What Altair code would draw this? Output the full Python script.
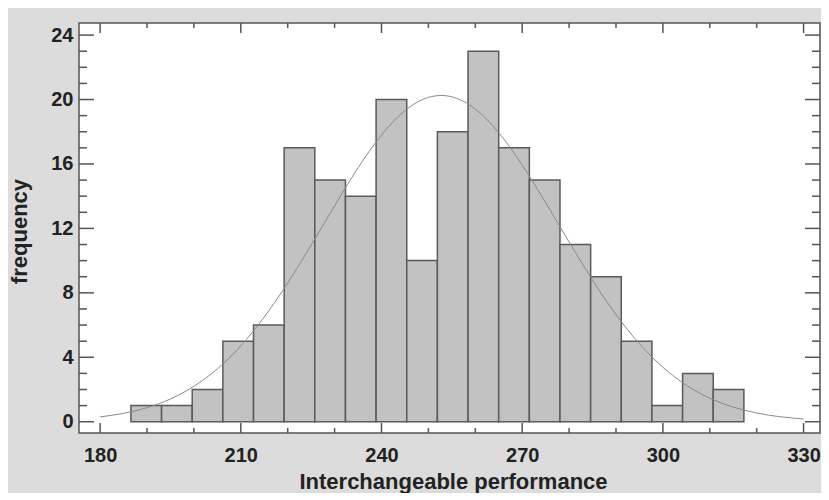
import altair as alt
import pandas as pd

# ---- data ----
counts = [1, 1, 2, 5, 6, 17, 15, 14, 20, 10, 18, 23, 17, 15, 11, 9, 5, 1, 3, 2]
bin_start = 186.57
bin_width = 6.535

curve_x = [180, 185, 190, 195, 200, 205, 210, 215, 220, 225, 230, 235, 240, 245, 250,
           255, 260, 265, 270, 275, 280, 285, 290, 295, 300, 305, 310, 315, 320, 325, 330]
curve_y = [0.30, 0.52, 0.87, 1.41, 2.20, 3.28, 4.71, 6.50, 8.61, 10.96, 13.41, 15.76, 17.80,
           19.31, 20.13, 20.17, 19.41, 17.94, 15.94, 13.60, 11.16, 8.79, 6.65, 4.84, 3.38,
           2.27, 1.46, 0.91, 0.54, 0.31, 0.17]

x_major = [180, 210, 240, 270, 300, 330]
x_minor = [190, 200, 220, 230, 250, 260, 280, 290, 310, 320]
y_major = [0, 4, 8, 12, 16, 20, 24]
y_minor = [1, 2, 3, 5, 6, 7, 9, 10, 11, 13, 14, 15, 17, 18, 19, 21, 22, 23]

x_domain = [175.5, 333.5]
y_domain = [-0.7, 24.75]

W, H = 741, 410
FONT = "Liberation Sans"
LFS = 20
TFS = 22
FRAME = "#555555"
TXT = "#222222"

bars = pd.DataFrame({
    "start": [bin_start + i * bin_width for i in range(len(counts))],
    "end": [bin_start + (i + 1) * bin_width for i in range(len(counts))],
    "count": counts,
})
curve = pd.DataFrame({"x": curve_x, "y": curve_y})

xs = alt.Scale(domain=x_domain, nice=False, zero=False)
ys = alt.Scale(domain=y_domain, nice=False, zero=False)

x_axis = alt.Axis(values=x_major, title="Interchangeable performance", grid=False,
                  ticks=False, tickSize=0, domain=False, labelPadding=12, labelFont=FONT,
                  labelFontSize=LFS, labelFontWeight="bold", labelColor=TXT,
                  titleFont=FONT, titleFontSize=TFS, titleFontWeight="bold",
                  titleColor=TXT, titleX=374, titleY=55, titleBaseline="alphabetic",
                  format="d", labelFlush=False)
y_axis = alt.Axis(values=y_major, title="frequency", grid=False, ticks=False, tickSize=0,
                  domain=False, labelPadding=6, labelFont=FONT, labelFontSize=LFS,
                  labelFontWeight="bold", labelColor=TXT, titleFont=FONT,
                  titleFontSize=TFS, titleFontWeight="bold", titleColor=TXT,
                  titleX=-60, titleY=H / 2 + 3, titleAngle=-90, titleAlign="center",
                  titleBaseline="middle", format="d", labelFlush=False)

bar_layer = alt.Chart(bars).mark_rect(fill="#c2c2c2", stroke="#5a5a5a", strokeWidth=1.5).encode(
    x=alt.X("start:Q", scale=xs, axis=x_axis),
    x2="end:Q",
    y=alt.Y("count:Q", scale=ys, axis=y_axis),
    y2=alt.datum(0),
)

curve_layer = alt.Chart(curve).mark_line(color="#8a8a8a", strokeWidth=1, interpolate="natural").encode(
    x=alt.X("x:Q", scale=xs),
    y=alt.Y("y:Q", scale=ys),
)

xmaj = pd.DataFrame({"v": x_major})
xmin = pd.DataFrame({"v": x_minor})
ymaj = pd.DataFrame({"v": y_major})
ymin = pd.DataFrame({"v": y_minor})

def xticks(df, length):
    bottom = alt.Chart(df).mark_rule(color=FRAME, strokeWidth=1.5).encode(
        x=alt.X("v:Q", scale=xs), y=alt.value(H), y2=alt.value(H - length))
    top = alt.Chart(df).mark_rule(color=FRAME, strokeWidth=1.5).encode(
        x=alt.X("v:Q", scale=xs), y=alt.value(0), y2=alt.value(length))
    return [bottom, top]

def yticks(df, length):
    left = alt.Chart(df).mark_rule(color=FRAME, strokeWidth=1.5).encode(
        y=alt.Y("v:Q", scale=ys), x=alt.value(0), x2=alt.value(length))
    right = alt.Chart(df).mark_rule(color=FRAME, strokeWidth=1.5).encode(
        y=alt.Y("v:Q", scale=ys), x=alt.value(W), x2=alt.value(W - length))
    return [left, right]

tick_layers = xticks(xmaj, 10) + xticks(xmin, 5) + yticks(ymaj, 15) + yticks(ymin, 8)

chart = alt.layer(bar_layer, curve_layer, *tick_layers).properties(
    width=W, height=H,
    autosize=alt.AutoSizeParams(type="none"),
    padding={"left": 71, "top": 15, "right": 1, "bottom": 60},
    background="#dcdcdc",
).configure_view(fill="white", stroke=FRAME, strokeWidth=1.5)

chart.save("out.html", embed_options={"renderer": "svg", "actions": False})
